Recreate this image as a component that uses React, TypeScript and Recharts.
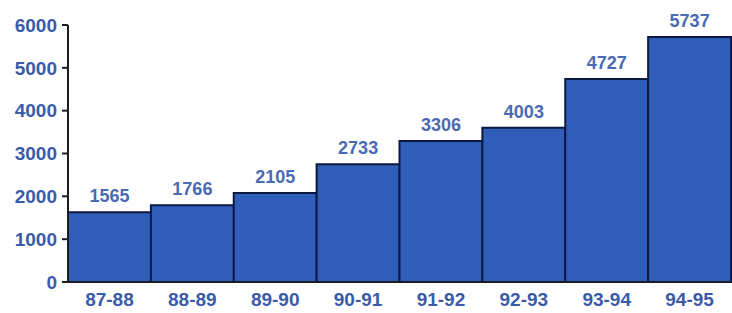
import React from "react";
import { BarChart, Bar, XAxis, YAxis, LabelList } from "recharts";

// fiscal years along the x axis
const years = ["87-88", "88-89", "89-90", "90-91", "91-92", "92-93", "93-94", "94-95"];
// bar heights as drawn in the picture
const heights = [1630, 1790, 2080, 2750, 3290, 3600, 4740, 5720];
// value labels printed above the bars
const valueLabels = ["1565", "1766", "2105", "2733", "3306", "4003", "4727", "5737"];
const yTicks = [0, 1000, 2000, 3000, 4000, 5000, 6000];

const data = years.map((year, i) => ({
  year,
  height: heights[i],
  label: valueLabels[i],
}));

const blueText = "#3a5ba9";
const font = "Liberation Sans, Arial, sans-serif";

const App: React.FC = () => {
  return (
    <div style={{ position: "absolute", left: 0, top: 0, width: 732, height: 313, background: "#fff" }}>
      <BarChart
        width={732}
        height={313}
        data={data}
        barCategoryGap={0}
        margin={{ top: 25, right: 1, left: 0, bottom: 0 }}
      >
        <XAxis
          dataKey="year"
          axisLine={{ stroke: "#1c1c24", strokeWidth: 2 }}
          tickLine={false}
          tickMargin={5}
          height={31}
          tick={{ fill: blueText, fontSize: 19, fontWeight: 700, fontFamily: font }}
        />
        <YAxis
          type="number"
          domain={[0, 6000]}
          ticks={yTicks}
          width={68}
          axisLine={{ stroke: "#1c1c24", strokeWidth: 2 }}
          tickLine={{ stroke: "#1c1c24", strokeWidth: 2 }}
          tickSize={6}
          tickMargin={5}
          tick={{ fill: blueText, fontSize: 19, fontWeight: 700, fontFamily: font }}
        />
        <Bar dataKey="height" fill="#2f5db8" stroke="#0b1842" strokeWidth={2} isAnimationActive={false}>
          <LabelList
            dataKey="label"
            position="top"
            offset={10}
            style={{ fill: "#4a6ab3", fontSize: 18, fontWeight: 700, fontFamily: font }}
          />
        </Bar>
      </BarChart>
    </div>
  );
};

export default App;
